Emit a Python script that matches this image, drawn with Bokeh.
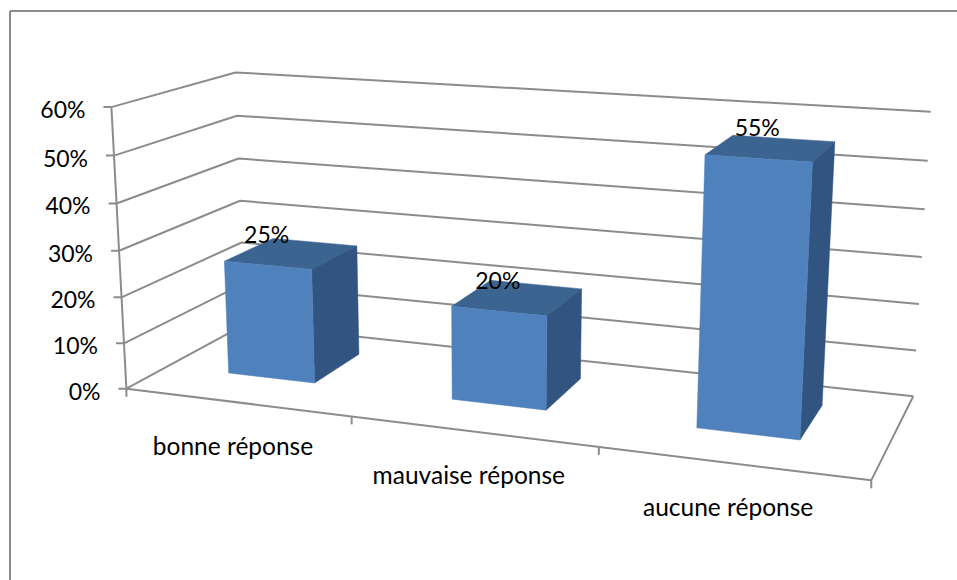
import numpy as np
from bokeh.core.properties import value
from bokeh.embed import file_html
from bokeh.models import Range1d
from bokeh.plotting import figure
from bokeh.resources import INLINE

# Chart content
categories = ["bonne réponse", "mauvaise réponse", "aucune réponse"]
shares = [0.25, 0.20, 0.55]
share_labels = ["25%", "20%", "55%"]
tick_values = [0.0, 0.1, 0.2, 0.3, 0.4, 0.5, 0.6]
tick_labels = ["0%", "10%", "20%", "30%", "40%", "50%", "60%"]

W, H = 957, 580
GRID = "#8c8c8c"
GRID_WIDTH = 2
FRONT, TOP, SIDE = "#4f81bd", "#3c6491", "#325480"
FONT = value("Lato")
NUMBER_SIZE = "23px"
CATEGORY_SIZE = "24.5px"

# Camera: pairs of (category position, depth, share) and their place on the page,
# solved into one 3x4 projective matrix by least squares.
box_points = [
    ((0, 0, 0.0), (127, 387)), ((0, 0, 0.6), (110, 107)),
    ((0, 1, 0.0), (243, 326)), ((0, 1, 0.6), (236, 71)),
    ((3, 1, 0.0), (913, 394)), ((3, 1, 0.6), (930, 112)),
    ((3, 0, 0.0), (871, 481)), ((1, 0, 0.0), (351, 415)),
    ((2, 0, 0.0), (598, 447)),
]
rows = []
for (a, b, c), (x, y) in box_points:
    rows.append([a, b, c, 1, 0, 0, 0, 0, -x * a, -x * b, -x * c, -x])
    rows.append([0, 0, 0, 0, a, b, c, 1, -y * a, -y * b, -y * c, -y])
CAMERA = np.linalg.svd(np.array(rows, float))[2][-1].reshape(3, 4)


def project(u, d, v):
    q = CAMERA @ np.array([u, d, v, 1.0])
    return q[0] / q[2], q[1] / q[2]


def path(*pts):
    xy = [project(*pt) for pt in pts]
    return [c[0] for c in xy], [c[1] for c in xy]


p = figure(
    width=W, height=H, output_backend="svg", toolbar_location=None,
    x_range=Range1d(0, W), y_range=Range1d(H, 0), min_border=0,
    background_fill_color="white", border_fill_color="white",
    outline_line_color=None,
)
p.axis.visible = False
p.grid.visible = False

# Chart-area frame: only its top and left edges fall on the page
p.line([9.5, W], [10.5, 10.5], line_color=GRID, line_width=GRID_WIDTH)
p.line([9.5, 9.5], [10.5, H], line_color=GRID, line_width=GRID_WIDTH)

# Side wall, back wall and value ticks
for v in tick_values:
    xs, ys = path((0, 0, v), (0, 1, v), (3, 1, v))
    p.line(xs, ys, line_color=GRID, line_width=GRID_WIDTH)
    x0, y0 = project(0, 0, v)
    p.line([x0 - 8, x0], [y0, y0], line_color=GRID, line_width=GRID_WIDTH)

# Value axis, floor outline and category ticks
xs, ys = path((0, 0, 0.0), (0, 0, 0.6))
p.line(xs, ys, line_color=GRID, line_width=GRID_WIDTH)
xs, ys = path((0, 0, 0), (3, 0, 0), (3, 1, 0))
p.line(xs, ys, line_color=GRID, line_width=GRID_WIDTH)
for i in range(len(categories) + 1):
    x0, y0 = project(i, 0, 0)
    p.line([x0, x0], [y0, y0 + 8], line_color=GRID, line_width=GRID_WIDTH)

# Bars, each a box with three visible faces
BAR_LEFT, BAR_RIGHT = 0.285, 0.68
DEPTH_FRONT, DEPTH_BACK = 0.33, 0.76
for i, v in enumerate(shares):
    u0, u1 = i + BAR_LEFT, i + BAR_RIGHT
    d0, d1 = DEPTH_FRONT, DEPTH_BACK
    xs, ys = path((u0, d0, v), (u1, d0, v), (u1, d1, v), (u0, d1, v))
    p.patch(xs, ys, fill_color=TOP, line_color=TOP, line_width=0.5)
    xs, ys = path((u1, d0, 0), (u1, d1, 0), (u1, d1, v), (u1, d0, v))
    p.patch(xs, ys, fill_color=SIDE, line_color=SIDE, line_width=0.5)
    xs, ys = path((u0, d0, 0), (u1, d0, 0), (u1, d0, v), (u0, d0, v))
    p.patch(xs, ys, fill_color=FRONT, line_color=FRONT, line_width=0.5)

# Value labels overlap the back of each bar top
lx, ly = [], []
for i, v in enumerate(shares):
    x0, y0 = project(i + (BAR_LEFT + BAR_RIGHT) / 2, DEPTH_FRONT, v)
    lx.append(x0 - 1)
    ly.append(y0 - 31)
p.text(x=lx, y=ly, text=share_labels, text_font=FONT, text_font_size=NUMBER_SIZE,
       text_color="black", text_align="center", text_baseline="middle")

# Value axis labels
tx, ty = [], []
for v in tick_values:
    x0, y0 = project(0, 0, v)
    tx.append(x0 - 26)
    ty.append(y0 + 2)
p.text(x=tx, y=ty, text=tick_labels, text_font=FONT, text_font_size=NUMBER_SIZE,
       text_color="black", text_align="right", text_baseline="middle")

# Category labels, stepped down along the front floor edge
cx, cy = [], []
for i in range(len(categories)):
    x0, y0 = project(i + 0.5, 0, 0)
    cx.append(x0 - 3.5)
    cy.append(y0 + 43)
p.text(x=cx, y=cy, text=categories, text_font=FONT, text_font_size=CATEGORY_SIZE,
       text_color="black", text_align="center", text_baseline="middle")

open("out.html", "w").write(file_html(p, INLINE))
